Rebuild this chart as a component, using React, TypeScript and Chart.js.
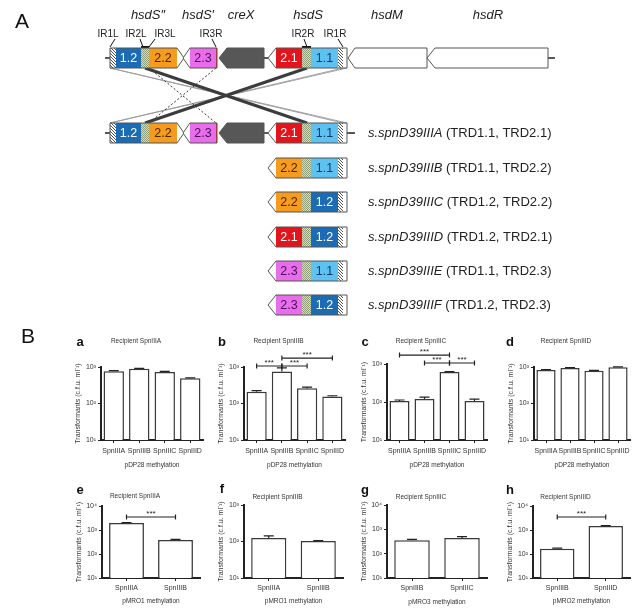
import React, { useEffect, useRef } from "react";
import { Chart, registerables } from "chart.js";
Chart.register(...registerables);

const FF = "'Liberation Sans', Arial, Helvetica, sans-serif";
Chart.defaults.font.family = FF;

// ================= Panel A : locus schematic (schematic units) =================
const geneNames = ["hsdS\u2033", "hsdS\u2032", "creX", "hsdS", "hsdM", "hsdR"];
const geneNameX = [148, 198, 241, 308, 387, 488];
const geneNameY = 15;
const irNames = ["IR1L", "IR2L", "IR3L", "IR3R", "IR2R", "IR1R"];
const irLabelX = [108, 136, 165, 211, 303, 335];
const irLabelY = 34;
const irPointerTopX = [115, 140, 155, 212, 304, 338];
const irSiteX = [110, 143, 149, 216, 307, 343];
const irBars: [number, number][] = [[141, 149], [302, 311]];

const rowCentre = [58, 133, 168, 202, 237, 271, 305];
const strainNames = ["", "s.spnD39IIIA", "s.spnD39IIIB", "s.spnD39IIIC", "s.spnD39IIID", "s.spnD39IIIE", "s.spnD39IIIF"];
const strainTRDs = ["", "(TRD1.1, TRD2.1)", "(TRD1.1, TRD2.2)", "(TRD1.2, TRD2.2)", "(TRD1.2, TRD2.1)", "(TRD1.1, TRD2.3)", "(TRD1.2, TRD2.3)"];
const hsdSTRD2 = ["2.1", "2.1", "2.2", "2.2", "2.1", "2.3", "2.3"];
const hsdSTRD1 = ["1.1", "1.1", "1.1", "1.2", "1.2", "1.1", "1.2"];
const strainTextX = 368;

const crossThick: [number, number][] = [[145, 307], [307, 145]];
const crossDotted: [number, number][] = [[149, 216], [216, 149]];
const crossThin: [number, number][] = [[110, 343], [343, 110], [110, 347], [347, 110]];

const panelLetters = ["A", "B"];
const panelLetterX = [22, 28];
const panelLetterY = [22, 337];

type Part = [number, number, string];
interface GeneDef { dir: number; tip: number; body: [number, number]; tipFill: string; parts: Part[]; }

const hsdS2Gene: GeneDef = { dir: 1, tip: 184, body: [110, 177], tipFill: "white", parts: [[110, 116, "hatch"], [116, 141, "1.2"], [141, 149, "stip"], [149, 177, "2.2"]] };
const hsdS1Gene: GeneDef = { dir: -1, tip: 183, body: [190, 217], tipFill: "white", parts: [[190, 216, "2.3"], [216, 217, "red"]] };
const creXGene: GeneDef = { dir: -1, tip: 219, body: [227, 264], tipFill: "gray", parts: [[227, 264, "gray"]] };
const hsdMGene: GeneDef = { dir: -1, tip: 348, body: [355, 427], tipFill: "white", parts: [] };
const hsdRGene: GeneDef = { dir: -1, tip: 427, body: [435, 548], tipFill: "white", parts: [] };
function hsdSGene(t2: string, t1: string): GeneDef {
  return { dir: -1, tip: 268, body: [276, 347], tipFill: "white", parts: [[276, 302, t2], [302, 311, "stip"], [311, 338, t1], [338, 343, "hatch"], [343, 347, "white"]] };
}
const rowGenes: GeneDef[][] = rowCentre.map((_, r) =>
  r === 0 ? [hsdS2Gene, hsdS1Gene, creXGene, hsdSGene(hsdSTRD2[r], hsdSTRD1[r]), hsdMGene, hsdRGene]
    : r === 1 ? [hsdS2Gene, hsdS1Gene, creXGene, hsdSGene(hsdSTRD2[r], hsdSTRD1[r])]
      : [hsdSGene(hsdSTRD2[r], hsdSTRD1[r])]
);
const rowStubs: [number, number][][] = rowCentre.map((_, r) =>
  r === 0 ? [[105, 110], [264, 268], [548, 555]] : r === 1 ? [[105, 110], [264, 268], [347, 355]] : []
);

const trdFill: Record<string, string> = { "1.1": "#5dc2f1", "1.2": "#1c6cb5", "2.1": "#e4141c", "2.2": "#f59b1d", "2.3": "#e96cea" };
const trdText: Record<string, string> = { "1.1": "#163a68", "1.2": "#ffffff", "2.1": "#ffffff", "2.2": "#4a2500", "2.3": "#4a0f5e" };

let patCache: { hatch: CanvasPattern; stip: CanvasPattern } | null = null;
function getPatterns(ctx: CanvasRenderingContext2D) {
  if (patCache) return patCache;
  const h = document.createElement("canvas");
  h.width = 3; h.height = 3;
  const hc = h.getContext("2d")!;
  hc.fillStyle = "#ffffff"; hc.fillRect(0, 0, 3, 3);
  hc.fillStyle = "#555555";
  hc.fillRect(0, 0, 1, 1); hc.fillRect(1, 1, 1, 1); hc.fillRect(2, 2, 1, 1);
  const s = document.createElement("canvas");
  s.width = 2; s.height = 2;
  const sc = s.getContext("2d")!;
  sc.fillStyle = "#d5ddc2"; sc.fillRect(0, 0, 2, 2);
  sc.fillStyle = "#8f9c78"; sc.fillRect(0, 0, 1, 1); sc.fillRect(1, 1, 1, 1);
  patCache = { hatch: ctx.createPattern(h, "repeat")!, stip: ctx.createPattern(s, "repeat")! };
  return patCache;
}

const locusPlugin = {
  id: "locus",
  afterDraw(chart: any) {
    const ctx = chart.ctx as CanvasRenderingContext2D;
    const X = (v: number) => chart.scales.x.getPixelForValue(v);
    const Y = (v: number) => chart.scales.y.getPixelForValue(v);
    const pats = getPatterns(ctx);
    ctx.save();
    ctx.textAlign = "center";
    ctx.textBaseline = "middle";
    // panel letters
    ctx.fillStyle = "#111";
    ctx.font = `21px ${FF}`;
    panelLetters.forEach((t, i) => ctx.fillText(t, X(panelLetterX[i]), Y(panelLetterY[i])));
    // gene names
    ctx.fillStyle = "#222";
    ctx.font = `italic 13px ${FF}`;
    geneNames.forEach((n, i) => ctx.fillText(n, X(geneNameX[i]), Y(geneNameY)));
    // IR labels
    ctx.font = `10px ${FF}`;
    irNames.forEach((n, i) => ctx.fillText(n, X(irLabelX[i]), Y(irLabelY)));
    ctx.strokeStyle = "#111";
    ctx.lineWidth = 1;
    const boxTop0 = rowCentre[0] - 10;
    irNames.forEach((_, i) => {
      ctx.beginPath();
      ctx.moveTo(X(irPointerTopX[i]), Y(irLabelY + 5));
      ctx.lineTo(X(irSiteX[i]), Y(boxTop0 - 1));
      ctx.stroke();
    });
    ctx.lineWidth = 2;
    irBars.forEach(([a, b]) => {
      ctx.beginPath();
      ctx.moveTo(X(a), Y(boxTop0 - 1));
      ctx.lineTo(X(b), Y(boxTop0 - 1));
      ctx.stroke();
    });

    // crossing lines between the locus and strain A
    const yTop = Y(rowCentre[0] + 10), yBot = Y(rowCentre[1] - 10);
    ctx.strokeStyle = "#9a9a9a"; ctx.lineWidth = 0.9; ctx.setLineDash([]);
    crossThin.forEach(([a, b]) => { ctx.beginPath(); ctx.moveTo(X(a), yTop); ctx.lineTo(X(b), yBot); ctx.stroke(); });
    ctx.strokeStyle = "#333"; ctx.lineWidth = 1; ctx.setLineDash([2, 2]);
    crossDotted.forEach(([a, b]) => { ctx.beginPath(); ctx.moveTo(X(a), yTop); ctx.lineTo(X(b), yBot); ctx.stroke(); });
    ctx.setLineDash([]);
    ctx.strokeStyle = "#3c3c3c"; ctx.lineWidth = 3;
    crossThick.forEach(([a, b]) => { ctx.beginPath(); ctx.moveTo(X(a), yTop); ctx.lineTo(X(b), yBot); ctx.stroke(); });

    // rows
    rowCentre.forEach((cy, r) => {
      const yc = Y(cy), yt = Y(cy - 10), yb = Y(cy + 10);
      ctx.strokeStyle = "#222"; ctx.lineWidth = 1.5;
      rowStubs[r].forEach(([a, b]) => { ctx.beginPath(); ctx.moveTo(X(a), yc); ctx.lineTo(X(b), yc); ctx.stroke(); });
      rowGenes[r].forEach((g) => {
        const pts: [number, number][] = g.dir < 0
          ? [[X(g.tip), yc], [X(g.body[0]), yt], [X(g.body[1]), yt], [X(g.body[1]), yb], [X(g.body[0]), yb]]
          : [[X(g.body[0]), yt], [X(g.body[1]), yt], [X(g.tip), yc], [X(g.body[1]), yb], [X(g.body[0]), yb]];
        const path = () => { ctx.beginPath(); pts.forEach(([x, y], i) => (i ? ctx.lineTo(x, y) : ctx.moveTo(x, y))); ctx.closePath(); };
        path();
        ctx.fillStyle = g.tipFill === "gray" ? "#575757" : "#ffffff";
        ctx.fill();
        g.parts.forEach(([a, b, k]) => {
          let fs: any = "#ffffff";
          if (k === "hatch") fs = pats.hatch;
          else if (k === "stip") fs = pats.stip;
          else if (k === "gray") fs = "#575757";
          else if (k === "red") fs = "#e3261f";
          else if (trdFill[k]) fs = trdFill[k];
          ctx.fillStyle = fs;
          ctx.fillRect(X(a), yt, X(b) - X(a), yb - yt);
          if (trdFill[k]) {
            ctx.fillStyle = trdText[k];
            ctx.font = `12.5px ${FF}`;
            ctx.fillText(k, (X(a) + X(b)) / 2, yc + 0.5);
          }
        });
        path();
        ctx.strokeStyle = "#555"; ctx.lineWidth = 1;
        ctx.stroke();
      });
      if (strainNames[r]) {
        ctx.textAlign = "left";
        ctx.fillStyle = "#222";
        ctx.font = `italic 13px ${FF}`;
        const x0 = X(strainTextX);
        ctx.fillText(strainNames[r], x0, yc);
        const w = ctx.measureText(strainNames[r]).width;
        ctx.font = `13px ${FF}`;
        ctx.fillText(" " + strainTRDs[r], x0 + w, yc);
        ctx.textAlign = "center";
      }
    });
    ctx.restore();
  },
};

// ================= Panel B : transformation efficiencies =================
const decadeTicks = [10, 100, 1000, 10000];
const supLabel: Record<number, string> = { 10: "10\u00b9", 100: "10\u00b2", 1000: "10\u00b3", 10000: "10\u2074" };
const yAxisTitle = "Transformants (c.f.u. ml\u207b\u00b9)";

const strains4 = ["SpnIIIA", "SpnIIIB", "SpnIIIC", "SpnIIID"];
const aValues = [760, 890, 730, 490];
const aErrors = [40, 30, 25, 15];
const bValues = [210, 750, 260, 155];
const bErrors = [15, 200, 20, 8];
const cValues = [106, 120, 615, 107];
const cErrors = [7, 14, 15, 12];
const dValues = [830, 940, 790, 990];
const dErrors = [25, 25, 20, 20];
const eLabels = ["SpnIIIA", "SpnIIIB"];
const eValues = [1950, 385];
const eErrors = [60, 25];
const fLabels = ["SpnIIIA", "SpnIIIB"];
const fValues = [125, 103];
const fErrors = [18, 3];
const gLabels = ["SpnIIIB", "SpnIIIC"];
const gValues = [360, 440];
const gErrors = [25, 60];
const hLabels = ["SpnIIIB", "SpnIIID"];
const hValues = [165, 1480];
const hErrors = [12, 40];
// significance brackets: [from bar, to bar, level in c.f.u./ml]
const bBrackets: [number, number, number][] = [[0, 1, 1065], [1, 2, 1065], [1, 3, 1760]];
const cBrackets: [number, number, number][] = [[0, 2, 1720], [1, 2, 1062], [2, 3, 1062]];
const eBrackets: [number, number, number][] = [[0, 1, 3480]];
const hBrackets: [number, number, number][] = [[0, 1, 3480]];

interface PanelB { letter: string; title: string; labels: string[]; values: number[]; errors: number[]; xTitle: string; max: number; brackets: [number, number, number][]; }
const panels: PanelB[] = [
  { letter: "a", title: "Recipient SpnIIIA", labels: strains4, values: aValues, errors: aErrors, xTitle: "pDP28 methylation", max: 1000, brackets: [] },
  { letter: "b", title: "Recipient SpnIIIB", labels: strains4, values: bValues, errors: bErrors, xTitle: "pDP28 methylation", max: 1000, brackets: bBrackets },
  { letter: "c", title: "Recipient SpnIIIC", labels: strains4, values: cValues, errors: cErrors, xTitle: "pDP28 methylation", max: 1000, brackets: cBrackets },
  { letter: "d", title: "Recipient SpnIIID", labels: strains4, values: dValues, errors: dErrors, xTitle: "pDP28 methylation", max: 1000, brackets: [] },
  { letter: "e", title: "Recipient SpnIIIA", labels: eLabels, values: eValues, errors: eErrors, xTitle: "pMRO1 methylation", max: 10000, brackets: eBrackets },
  { letter: "f", title: "Recipient SpnIIIB", labels: fLabels, values: fValues, errors: fErrors, xTitle: "pMRO1 methylation", max: 1000, brackets: [] },
  { letter: "g", title: "Recipient SpnIIIC", labels: gLabels, values: gValues, errors: gErrors, xTitle: "pMRO3 methylation", max: 10000, brackets: [] },
  { letter: "h", title: "Recipient SpnIIID", labels: hLabels, values: hValues, errors: hErrors, xTitle: "pMRO2 methylation", max: 10000, brackets: hBrackets },
];

interface Geo { l: number; r: number; t: number; b: number; titleY: number; letterX: number; letterY: number; tickPad: number; xTitleY: number; }
const layouts: Geo[] = [
  { l: 101, r: 203, t: 367, b: 440, titleY: 341, letterX: 80, letterY: 342, tickPad: 3.8, xTitleY: 465 },
  { l: 244, r: 345, t: 367, b: 440, titleY: 341, letterX: 222, letterY: 342, tickPad: 3.8, xTitleY: 465 },
  { l: 387, r: 487, t: 364, b: 440, titleY: 341, letterX: 365, letterY: 342, tickPad: 3.8, xTitleY: 465 },
  { l: 534, r: 630, t: 367, b: 440, titleY: 341, letterX: 510, letterY: 342, tickPad: 3.8, xTitleY: 465 },
  { l: 102, r: 200, t: 506, b: 578, titleY: 496, letterX: 80, letterY: 490, tickPad: 2.8, xTitleY: 601 },
  { l: 244, r: 343, t: 505, b: 578, titleY: 497, letterX: 222, letterY: 489, tickPad: 2.8, xTitleY: 601 },
  { l: 387, r: 487, t: 505, b: 578, titleY: 497, letterX: 365, letterY: 490, tickPad: 2.8, xTitleY: 602 },
  { l: 533, r: 630, t: 506, b: 578, titleY: 497, letterX: 510, letterY: 490, tickPad: 2.8, xTitleY: 601 },
];

function boxOf(g: Geo) {
  const L = g.l - 32;
  const T = Math.round(Math.min(g.titleY, g.letterY) - 10);
  const R = g.r + 8;
  const B = g.xTitleY + 6;
  return { L, T, w: R - L, h: B - T };
}

function extrasPlugin(p: PanelB, g: Geo, box: { L: number; T: number }) {
  return {
    id: "extras",
    afterDatasetsDraw(chart: any) {
      const ctx = chart.ctx as CanvasRenderingContext2D;
      const xs = chart.scales.x, ys = chart.scales.y;
      ctx.save();
      ctx.strokeStyle = "#222";
      ctx.lineWidth = 1.2;
      p.values.forEach((v, i) => {
        const x = xs.getPixelForValue(i);
        const y0 = ys.getPixelForValue(v), y1 = ys.getPixelForValue(v + p.errors[i]);
        ctx.beginPath();
        ctx.moveTo(x, y0); ctx.lineTo(x, y1);
        ctx.moveTo(x - 5, y1); ctx.lineTo(x + 5, y1);
        ctx.stroke();
      });
      ctx.textAlign = "center";
      ctx.textBaseline = "middle";
      p.brackets.forEach(([i, j, lvl]) => {
        const xa = xs.getPixelForValue(i), xb = xs.getPixelForValue(j), y = ys.getPixelForValue(lvl);
        ctx.beginPath();
        ctx.moveTo(xa, y); ctx.lineTo(xb, y);
        ctx.moveTo(xa, y - 2.5); ctx.lineTo(xa, y + 2.5);
        ctx.moveTo(xb, y - 2.5); ctx.lineTo(xb, y + 2.5);
        ctx.stroke();
        ctx.fillStyle = "#222";
        ctx.font = `8px ${FF}`;
        ctx.fillText("***", (xa + xb) / 2, y - 3.5);
      });
      ctx.fillStyle = "#111";
      ctx.font = `bold 13px ${FF}`;
      ctx.fillText(p.letter, g.letterX - box.L, g.letterY - box.T);
      ctx.restore();
    },
  };
}

function barConfig(p: PanelB, g: Geo): any {
  const box = boxOf(g);
  const titleLH = 6.5 * 1.2;
  const pt = g.titleY - box.T - titleLH / 2;
  const pb = g.t - box.T - titleLH - pt;
  const ticks = decadeTicks.filter((v) => v <= p.max);
  const bottomEdge = box.T + box.h;
  return {
    type: "bar",
    data: {
      labels: p.labels,
      datasets: [{
        data: p.values, backgroundColor: "#ffffff", borderColor: "#3a3a3a", borderWidth: 1.5,
        borderSkipped: "bottom", barPercentage: p.labels.length > 2 ? 0.8 : 0.71, categoryPercentage: 1,
      }],
    },
    options: {
      responsive: false, animation: false, devicePixelRatio: 1, events: [],
      layout: { padding: { left: 0, top: 0, bottom: 0, right: box.L + box.w - g.r }, autoPadding: false },
      plugins: {
        legend: { display: false }, tooltip: { enabled: false },
        title: { display: true, text: p.title, color: "#333", font: { family: FF, size: 6.5, lineHeight: 1.2, weight: "normal" }, padding: { top: pt, bottom: pb } },
      },
      scales: {
        x: {
          type: "category", offset: true,
          grid: { display: true, drawOnChartArea: false, drawTicks: true, tickLength: 3, offset: false, color: "#222", lineWidth: 1 },
          border: { display: true, color: "#222", width: 2 },
          ticks: { color: "#333", font: { family: FF, size: 7 }, padding: g.tickPad, autoSkip: false, maxRotation: 0 },
          title: { display: true, text: p.xTitle, color: "#333", font: { family: FF, size: 6.5, lineHeight: 1.2 }, padding: { top: 0, bottom: bottomEdge - g.xTitleY - 3.9 } },
          afterFit: (s: any) => { s.height = bottomEdge - g.b; },
        },
        y: {
          type: "logarithmic", min: 10, max: p.max,
          grid: { display: true, drawOnChartArea: false, drawTicks: true, tickLength: 3, color: "#222", lineWidth: 1 },
          border: { display: true, color: "#222", width: 2 },
          ticks: { color: "#333", font: { family: FF, size: 7 }, padding: 2, callback: (v: any) => supLabel[Number(v)] ?? "" },
          afterBuildTicks: (s: any) => { s.ticks = ticks.map((v) => ({ value: v })); },
          title: { display: true, text: yAxisTitle, color: "#333", font: { family: FF, size: 7, lineHeight: 1.2 }, padding: { top: g.l - 23 - box.L - 4.2, bottom: 0 } },
          afterFit: (s: any) => { s.width = g.l - box.L; },
        },
      },
    },
    plugins: [extrasPlugin(p, g, box)],
  };
}

export default function App() {
  const aRef = useRef<HTMLCanvasElement | null>(null);
  const refs = useRef<(HTMLCanvasElement | null)[]>([]);
  useEffect(() => {
    document.body.style.margin = "0";
    const charts: Chart[] = [];
    charts.push(new Chart(aRef.current!, {
      type: "scatter",
      data: { datasets: [{ data: [] }] },
      options: {
        responsive: false, animation: false, devicePixelRatio: 1, events: [],
        layout: { padding: 0, autoPadding: false },
        plugins: { legend: { display: false }, tooltip: { enabled: false } },
        scales: {
          x: { type: "linear", min: 0, max: 640, display: false },
          y: { type: "linear", min: 0, max: 611, reverse: true, display: false },
        },
      },
      plugins: [locusPlugin],
    } as any));
    panels.forEach((p, i) => {
      charts.push(new Chart(refs.current[i]!, barConfig(p, layouts[i])));
    });
    return () => charts.forEach((c) => c.destroy());
  }, []);
  return (
    <div style={{ position: "relative", width: 640, height: 611, background: "#fff", overflow: "hidden" }}>
      <canvas ref={aRef} width={640} height={611} style={{ position: "absolute", left: 0, top: 0 }} />
      {panels.map((p, i) => {
        const b = boxOf(layouts[i]);
        return (
          <canvas key={p.letter} ref={(el) => { refs.current[i] = el; }} width={b.w} height={b.h}
            style={{ position: "absolute", left: b.L, top: b.T }} />
        );
      })}
    </div>
  );
}
